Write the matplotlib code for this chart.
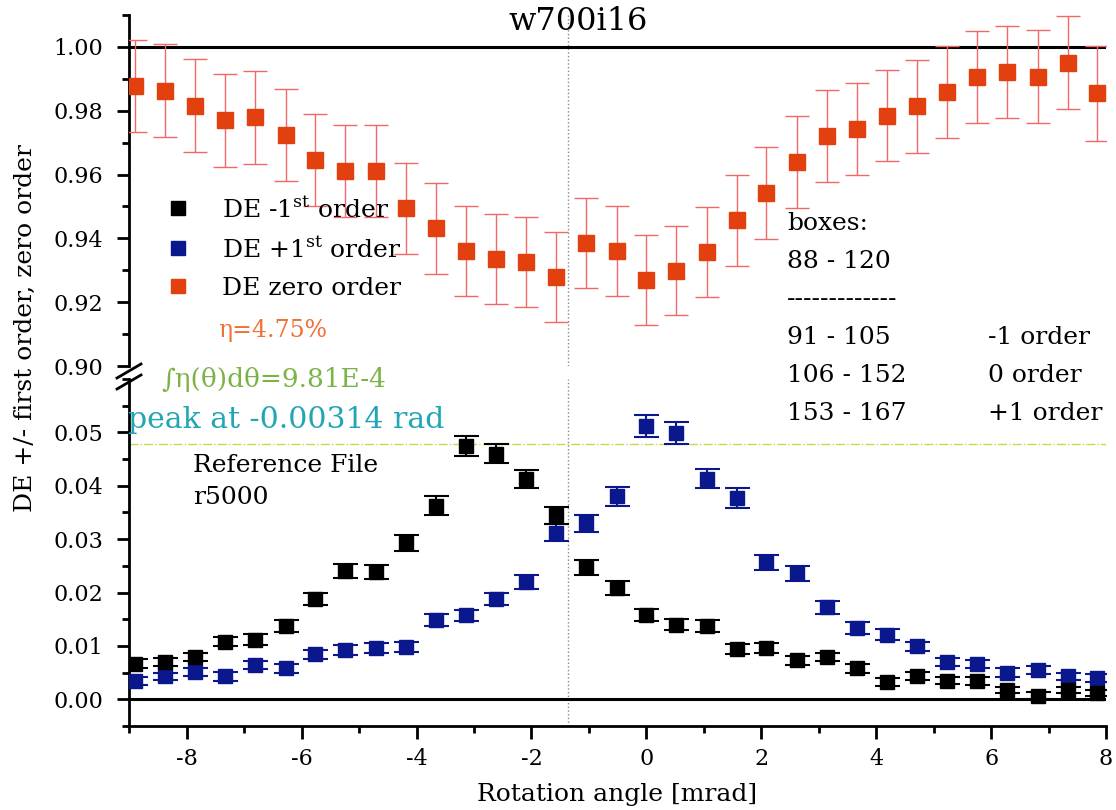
import numpy as np
import matplotlib.pyplot as plt
from matplotlib.lines import Line2D
from matplotlib.ticker import MultipleLocator

# rotation angle of each measurement [mrad]
angle = [-8.90, -8.38, -7.85, -7.33, -6.81, -6.28, -5.76, -5.24, -4.71, -4.19,
         -3.67, -3.14, -2.62, -2.09, -1.57, -1.05, -0.52, 0.00, 0.52, 1.05,
         1.57, 2.09, 2.62, 3.14, 3.67, 4.19, 4.71, 5.24, 5.76, 6.28,
         6.81, 7.33, 7.85]

de_zero = [0.9877, 0.9863, 0.9816, 0.9770, 0.9780, 0.9725, 0.9645, 0.9612, 0.9610, 0.9494,
           0.9431, 0.9360, 0.9335, 0.9325, 0.9278, 0.9386, 0.9360, 0.9270, 0.9299, 0.9357,
           0.9457, 0.9541, 0.9638, 0.9720, 0.9744, 0.9785, 0.9814, 0.9858, 0.9905, 0.9921,
           0.9907, 0.9951, 0.9854]
de_zero_err = [0.0145, 0.0146, 0.0145, 0.0145, 0.0146, 0.0144, 0.0144, 0.0144, 0.0144, 0.0143,
               0.0143, 0.0141, 0.0141, 0.0141, 0.0141, 0.0140, 0.0140, 0.0140, 0.0140, 0.0140,
               0.0143, 0.0144, 0.0144, 0.0144, 0.0144, 0.0144, 0.0145, 0.0145, 0.0144, 0.0145,
               0.0145, 0.0146, 0.0150]

de_minus = [0.0067, 0.0070, 0.0079, 0.0108, 0.0112, 0.0138, 0.0188, 0.0241, 0.0238, 0.0293,
            0.0363, 0.0475, 0.0460, 0.0413, 0.0345, 0.0247, 0.0208, 0.0158, 0.0140, 0.0137,
            0.0094, 0.0096, 0.0073, 0.0079, 0.0058, 0.0032, 0.0044, 0.0035, 0.0034, 0.0017,
            0.0007, 0.0017, 0.0012]
de_minus_err = [0.0008, 0.0008, 0.0008, 0.0009, 0.0010, 0.0011, 0.0012, 0.0013, 0.0013, 0.0015,
                0.0017, 0.0019, 0.0018, 0.0017, 0.0016, 0.0014, 0.0013, 0.0011, 0.0011, 0.0011,
                0.0009, 0.0009, 0.0008, 0.0008, 0.0008, 0.0007, 0.0007, 0.0007, 0.0007, 0.0006,
                0.0006, 0.0006, 0.0006]

de_plus = [0.0034, 0.0043, 0.0051, 0.0043, 0.0064, 0.0058, 0.0084, 0.0092, 0.0096, 0.0098,
           0.0148, 0.0157, 0.0188, 0.0219, 0.0312, 0.0330, 0.0380, 0.0512, 0.0499, 0.0413,
           0.0377, 0.0257, 0.0236, 0.0172, 0.0134, 0.0121, 0.0099, 0.0070, 0.0066, 0.0050,
           0.0055, 0.0043, 0.0040]
de_plus_err = [0.0007, 0.0007, 0.0008, 0.0008, 0.0008, 0.0008, 0.0009, 0.0009, 0.0009, 0.0009,
               0.0011, 0.0011, 0.0012, 0.0013, 0.0016, 0.0016, 0.0018, 0.0020, 0.0020, 0.0018,
               0.0018, 0.0014, 0.0014, 0.0012, 0.0011, 0.0010, 0.0009, 0.0008, 0.0008, 0.0008,
               0.0008, 0.0007, 0.0007]

peak_level = 0.0478
centre_angle = -1.36

plt.rcParams['font.family'] = ['DejaVu Serif', 'DejaVu Sans']
plt.rcParams['mathtext.fontset'] = 'dejavuserif'
plt.rcParams['axes.unicode_minus'] = False

W, H = 1116, 810
fx = lambda px: px / W
fy = lambda py: 1 - py / H

ORANGE = '#e2410f'
ORANGE_ERR = '#f26868'
NAVY = '#0b178c'

fig = plt.figure(figsize=(11.16, 8.10), dpi=100)
x0, x1 = 129.3, 1106
ax_top = fig.add_axes([fx(x0), fy(366), (x1 - x0) / W, (366 - 15) / H])
ax_bot = fig.add_axes([fx(x0), fy(726), (x1 - x0) / W, (726 - 379) / H])

# zero order, upper panel
ax_top.errorbar(angle, de_zero, yerr=de_zero_err, fmt='s', ms=11.5, color=ORANGE,
                ecolor=ORANGE_ERR, elinewidth=1.0, capsize=8.5, capthick=1.0, zorder=3)
ax_top.axhline(1.0, color='black', lw=2.2, zorder=2)
ax_top.axvline(centre_angle, color='#888888', lw=1, ls=':', zorder=1)
ax_top.set_xlim(-9, 8)
ax_top.set_ylim(0.90, 1.01)
ax_top.set_yticks([0.90, 0.92, 0.94, 0.96, 0.98, 1.00])
ax_top.yaxis.set_minor_locator(MultipleLocator(0.01))
ax_top.set_yticklabels(['0.90', '0.92', '0.94', '0.96', '0.98', '1.00'])
ax_top.set_xticks([])
for s in ['top', 'right', 'bottom']:
    ax_top.spines[s].set_visible(False)

# first orders, lower panel
ax_bot.errorbar(angle, de_plus, yerr=de_plus_err, fmt='s', ms=10.5, color=NAVY,
                ecolor=NAVY, elinewidth=1.5, capsize=9, capthick=1.5, zorder=3)
ax_bot.errorbar(angle, de_minus, yerr=de_minus_err, fmt='s', ms=10.5, color='black',
                ecolor='black', elinewidth=1.5, capsize=9, capthick=1.5, zorder=3)
ax_bot.axhline(0.0, color='black', lw=2.2, zorder=2)
ax_bot.axhline(peak_level, color='#c9d84a', lw=1, ls='-.', zorder=1)
ax_bot.axvline(centre_angle, color='#888888', lw=1, ls=':', zorder=1)
ax_bot.set_xlim(-9, 8)
ax_bot.set_ylim(-0.005, 0.06)
ax_bot.set_yticks([0.00, 0.01, 0.02, 0.03, 0.04, 0.05])
ax_bot.set_yticklabels(['0.00', '0.01', '0.02', '0.03', '0.04', '0.05'])
ax_bot.yaxis.set_minor_locator(MultipleLocator(0.005))
ax_bot.set_xticks([-8, -6, -4, -2, 0, 2, 4, 6, 8])
ax_bot.xaxis.set_minor_locator(MultipleLocator(1))
for s in ['top', 'right']:
    ax_bot.spines[s].set_visible(False)

for ax in (ax_top, ax_bot):
    for s in ax.spines.values():
        s.set_linewidth(2)
    ax.tick_params(which='major', direction='out', length=9, width=2, labelsize=16, pad=7)
    ax.tick_params(which='minor', direction='out', length=5, width=2)
    ax.tick_params(axis='y', which='major', pad=10)

# axis break marks
for dy in (0, 11):
    fig.add_artist(Line2D([fx(117), fx(141)], [fy(378 + dy), fy(364 + dy)],
                          color='black', lw=2))

fig.text(fx(578), fy(22), 'w700i16', ha='center', va='center', fontsize=23)
fig.text(fx(617), fy(795), 'Rotation angle [mrad]', ha='center', va='center', fontsize=18)
fig.text(fx(25), fy(328), 'DE +/- first order, zero order', rotation=90,
         ha='center', va='center', fontsize=18)

handles = [Line2D([], [], marker='s', ls='none', ms=10, color='black'),
           Line2D([], [], marker='s', ls='none', ms=10, color=NAVY),
           Line2D([], [], marker='s', ls='none', ms=10, color=ORANGE)]
labels = [r'DE -1$^{\rm st}$ order', r'DE +1$^{\rm st}$ order', 'DE zero order']
fig.legend(handles, labels, loc='upper left', bbox_to_anchor=(fx(166), fy(197)),
           frameon=False, fontsize=18, handlelength=0.95, handletextpad=1.3,
           labelspacing=0.6, borderpad=0, borderaxespad=0)

fig.text(fx(218), fy(330), 'η=4.75%', color='#f07036', fontsize=17, va='center')
fig.text(fx(161), fy(380), '∫η(θ)dθ=9.81E-4', color='#7bb347', fontsize=19, va='center')
fig.text(fx(128), fy(420), 'peak at -0.00314 rad', color='#22a6b5', fontsize=21.5, va='center')
fig.text(fx(193), fy(465), 'Reference File', fontsize=18, va='center')
fig.text(fx(193), fy(497), 'r5000', fontsize=18, va='center')

box_rows = [('boxes:', ''), ('88 - 120', ''), ('-------------', ''),
            ('91 - 105', '-1 order'), ('106 - 152', '0 order'), ('153 - 167', '+1 order')]
box_y = [224, 262, 300, 338, 376, 413]
for (a, b), yy in zip(box_rows, box_y):
    fig.text(fx(787), fy(yy), a, fontsize=18, va='center')
    if b:
        fig.text(fx(988), fy(yy), b, fontsize=18, va='center')

fig.savefig('out.png', dpi=100)
